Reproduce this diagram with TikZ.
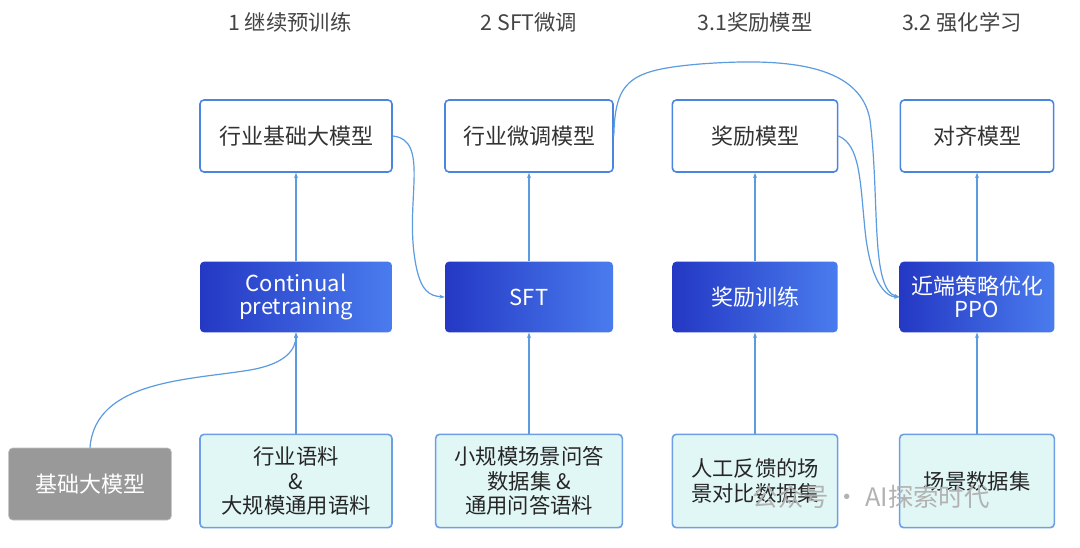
\documentclass[tikz,border=0pt]{standalone}
\usepackage{fontspec}
\setmainfont{Noto Sans CJK SC}
\usetikzlibrary{arrows.meta}
\definecolor{ln}{HTML}{5B9BE0}
\definecolor{bd}{HTML}{4A86E0}
\definecolor{ttl}{HTML}{444444}
\begin{document}
\begin{tikzpicture}[x=0.75pt,y=-0.75pt,
  top/.style={draw=bd,line width=1.2pt,rounded corners=3pt,fill=white,minimum height=54pt,font=\fontsize{16.5}{19}\selectfont,text=black!80},
  mid/.style={rounded corners=3pt,left color={rgb,255:red,36;green,56;blue,196},right color={rgb,255:red,74;green,124;blue,238},draw=none,minimum height=53pt,font=\fontsize{16.5}{18}\selectfont,text=white,align=center},
  bot/.style={draw=bd!80,line width=1.2pt,rounded corners=3pt,fill={rgb,255:red,225;green,247;blue,246},minimum height=70pt,font=\fontsize{16}{18.5}\selectfont,text=black!85,align=center},
  ttlst/.style={font=\fontsize{16}{19}\selectfont,text=ttl},
  ar/.style={draw=ln,line width=0.9pt,-{Stealth[length=4pt,width=3pt]}}]
\useasboundingbox (0,0) rectangle (1080,547);
\fill[white] (0,0) rectangle (1080,547);
\node[ttlst] (t1) at (290,22) {1 继续预训练};
\node[ttlst] (t2) at (529,22) {2 SFT微调};
\node[ttlst] (t3) at (755,22) {3.1奖励模型};
\node[ttlst] (t4) at (962,22) {3.2 强化学习};
\node[top,minimum width=144pt] (a1) at (296,136) {行业基础大模型};
\node[top,minimum width=126pt] (a2) at (529,136) {行业微调模型};
\node[top,minimum width=124pt] (a3) at (755,136) {奖励模型};
\node[top,minimum width=115pt] (a4) at (977,136) {对齐模型};
\node[mid,minimum width=144pt] (m1) at (296,297) {Continual\\[-1pt]pretraining};
\node[mid,minimum width=126pt] (m2) at (529,297) {SFT};
\node[mid,minimum width=124pt] (m3) at (755,297) {奖励训练};
\node[mid,minimum width=116pt] (m4) at (977,297) {近端策略优化\\[-1pt]PPO};
\node[bot,minimum width=144pt] (b1) at (296,481) {行业语料\\\&\\大规模通用语料};
\node[bot,minimum width=140pt] (b2) at (529,481) {小规模场景问答\\数据集 \&\\通用问答语料};
\node[bot,minimum width=124pt] (b3) at (755,481) {人工反馈的场\\景对比数据集};
\node[bot,minimum width=116pt] (b4) at (977,481) {场景数据集};
\node[rounded corners=3pt,fill=black!40,draw=black!25,minimum width=122pt,minimum height=54pt,text=white,font=\fontsize{16.5}{19}\selectfont] (g) at (90,484) {基础大模型};
\node[text=black!30,font=\fontsize{19}{22}\selectfont,anchor=west] (wm) at (748,497) {公众号 · AI探索时代};
\foreach \i in {1,2,3,4}{
  \draw[ar] (b\i.north) -- (m\i.south);
  \draw[ar] (m\i.north) -- (a\i.south);
}
\draw[ar] (g.north) .. controls (95,380) and (190,380) .. (250,370) .. controls (285,364) and (296,350) .. (m1.south);
\draw[ar] (a1.east) .. controls (430,140) and (405,200) .. (415,260) .. controls (420,292) and (430,296) .. (m2.west);
\draw[ar] (a2.east) .. controls (615,80) and (630,70) .. (700,64) .. controls (780,58) and (860,62) .. (870,120) .. controls (880,200) and (870,290) .. (m4.west);
\draw[ar] (a3.east) .. controls (860,145) and (860,180) .. (865,230) .. controls (870,280) and (885,297) .. (m4.west);
\end{tikzpicture}
\end{document}
